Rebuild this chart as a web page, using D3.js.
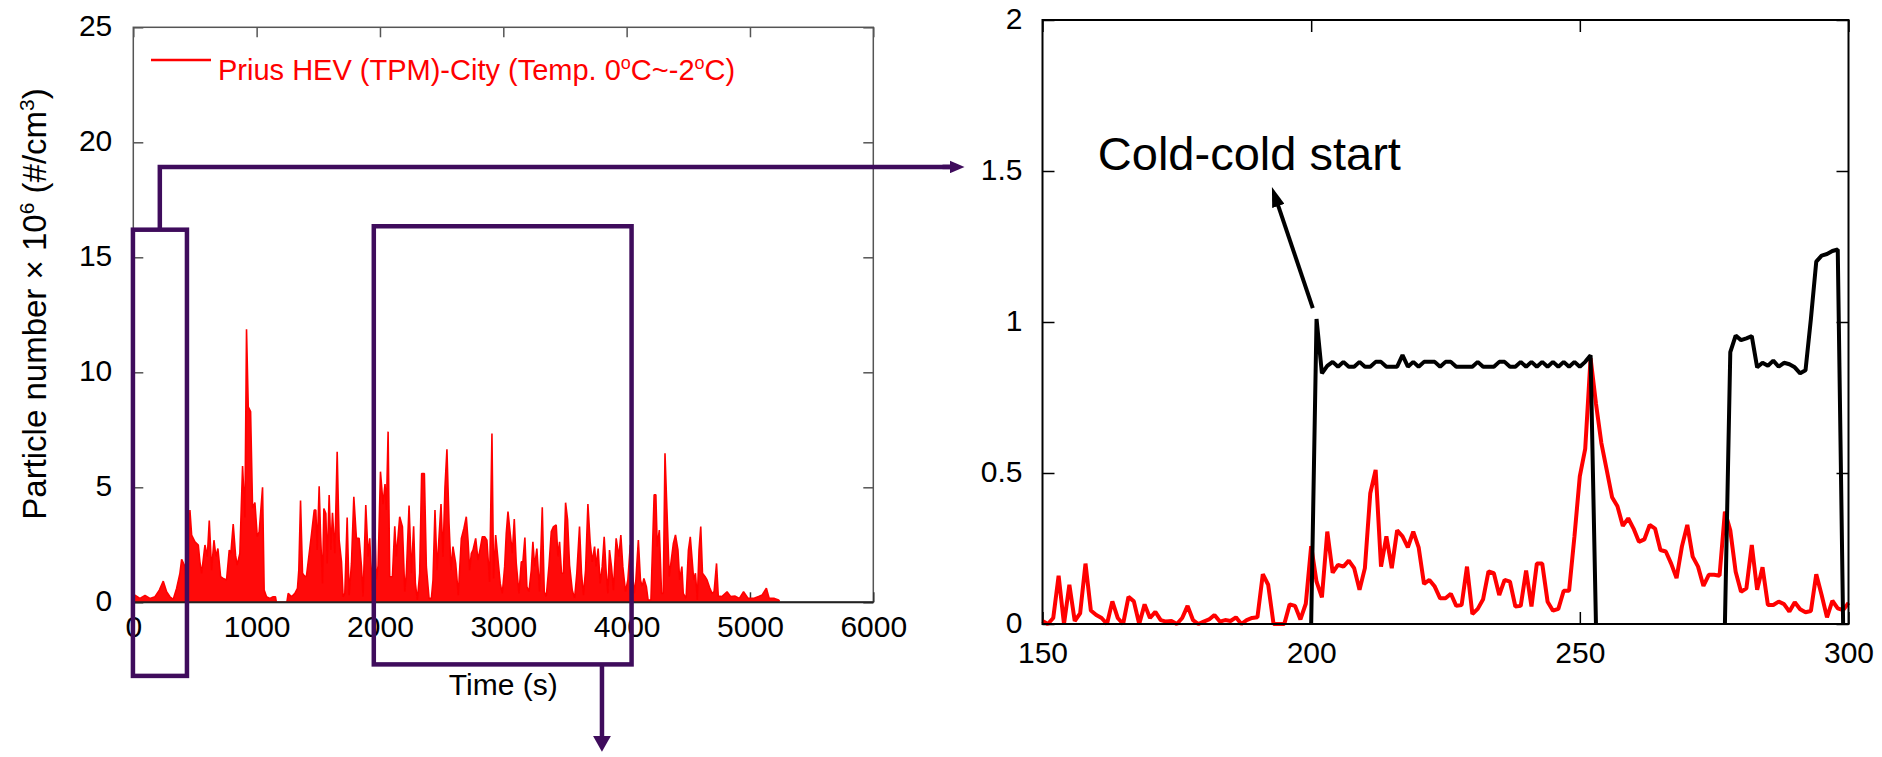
<!DOCTYPE html>
<html>
<head>
<meta charset="utf-8">
<script src="https://cdn.jsdelivr.net/npm/d3@7"></script>
<style>
  body { margin: 0; background: #fff; }
  svg { display: block; font-family: "Liberation Sans", Arial, sans-serif; }
  .tick text { font-size: 30px; fill: #000; }
</style>
</head>
<body>
<div id="chart"></div>
<script>
/* Prius HEV city cycle: full trace (left) and 150-300 s close-up (right) */

// full trace, [time s, particle number x 1e6 #/cm3]
const cityTrace = [
  [0,0.1],[13,0.31],[54,0.17],[95,0.3],[135,0.17],[176,0.24],[211,0.53],[243,0.92],[270,0.46],[297,0.24],
  [324,0.13],[351,0.6],[378,1.26],[392,1.87],[419,1.55],[440,0.3],[459,4.01],[473,2.92],[500,2.63],[527,2.49],
  [540,1.76],[554,1.26],[581,2.49],[600,1.98],[616,3.55],[635,1.4],[654,2.7],[670,1.98],[686,2.34],[708,1.11],
  [729,1.04],[756,0.97],[778,2.27],[791,2.13],[810,3.4],[829,2.05],[842,1.62],[864,2.13],[886,5.92],[905,3.69],
  [918,11.87],[932,8.5],[951,8.29],[967,4.08],[986,4.34],[1005,2.85],[1021,3.07],[1048,5.0],[1061,0.53],[1080,0.24],
  [1107,0.17],[1134,0.24],[1153,0.24],[1160,0],[1245,0],[1256,0.39],[1283,0.24],[1310,0.39],[1331,0.6],[1342,1.4],
  [1356,4.42],[1372,1.26],[1391,1.11],[1404,1.14],[1431,2.34],[1445,2.97],[1467,4.01],[1480,4.01],[1491,2.27],[1507,5.05],
  [1518,3.0],[1534,0.82],[1545,4.08],[1561,3.86],[1572,1.69],[1588,4.66],[1602,2.27],[1615,3.89],[1634,2.13],[1653,6.55],
  [1669,2.7],[1688,1.76],[1701,0.24],[1715,0.39],[1734,3.69],[1750,0.31],[1769,1.69],[1788,4.59],[1809,2.78],[1831,2.78],
  [1850,1.55],[1863,0.24],[1885,4.23],[1904,1.98],[1917,2.78],[1935,0.5],[1955,4.2],[1970,1.0],[1985,1.6],[2004,5.68],
  [2025,4.27],[2041,5.14],[2052,4.01],[2066,7.42],[2079,1.11],[2101,1.11],[2120,3.31],[2133,1.98],[2160,3.72],[2182,3.29],
  [2201,0.46],[2214,1.26],[2236,4.21],[2255,1.26],[2273,3.31],[2287,0.82],[2303,0.1],[2322,1.26],[2338,5.6],[2360,5.6],
  [2376,1.55],[2398,0.17],[2417,0.17],[2430,0.97],[2446,4.01],[2463,1.4],[2479,2.85],[2495,4.27],[2511,1.98],[2527,5.0],
  [2543,6.65],[2560,3.43],[2576,1.4],[2592,2.42],[2614,1.69],[2635,0.31],[2660,2.78],[2681,3.22],[2700,3.72],[2714,2.7],
  [2727,1.4],[2741,2.13],[2754,2.27],[2776,2.78],[2795,1.84],[2813,2.34],[2830,2.85],[2849,2.85],[2867,2.7],[2889,0.89],
  [2908,7.34],[2921,1.04],[2938,2.92],[2957,1.84],[2975,0.82],[2992,0.39],[3011,1.55],[3024,3.0],[3038,3.94],[3056,3.0],
  [3073,2.13],[3089,3.62],[3105,1.69],[3127,0.39],[3146,1.76],[3159,1.76],[3175,2.82],[3191,0.68],[3208,0.46],[3227,1.4],
  [3240,2.63],[3254,1.55],[3272,2.34],[3294,0.46],[3316,4.13],[3332,0.46],[3348,0.24],[3370,1.55],[3389,3.07],[3407,3.29],
  [3429,3.36],[3443,1.98],[3456,2.63],[3472,1.26],[3488,1.26],[3505,4.33],[3521,3.6],[3537,1.62],[3559,0.53],[3578,0.17],
  [3596,1.26],[3618,3.29],[3634,1.26],[3650,0.31],[3667,1.4],[3686,4.27],[3704,2.63],[3721,1.76],[3740,2.42],[3753,1.55],
  [3769,2.34],[3785,0.82],[3802,1.55],[3818,2.85],[3834,1.33],[3848,0.39],[3861,2.27],[3877,1.55],[3893,0.53],[3915,2.78],
  [3937,1.98],[3953,2.92],[3969,1.55],[3991,0.46],[4010,0.97],[4030,2.5],[4061,0.39],[4075,0.97],[4095,2.71],[4112,0.97],
  [4126,0.68],[4140,1.04],[4160,0.68],[4174,0.1],[4197,0.1],[4223,4.67],[4237,4.67],[4248,2.42],[4265,3.14],[4283,0.39],
  [4297,0.39],[4311,6.48],[4331,3.36],[4345,1.12],[4362,1.84],[4379,2.56],[4396,2.93],[4416,2.28],[4430,0.97],[4448,1.55],
  [4459,0.39],[4482,0.17],[4501,2.27],[4516,2.85],[4530,1.91],[4544,0.97],[4558,1.26],[4573,0.1],[4587,2.27],[4601,3.29],
  [4615,1.26],[4635,1.12],[4652,0.97],[4672,0.65],[4692,0.39],[4709,0.46],[4729,1.69],[4743,0.27],[4772,0.25],[4814,0.46],
  [4843,0.25],[4880,0.27],[4914,0.17],[4948,0.46],[4985,0.17],[5028,0.17],[5070,0.25],[5099,0.32],[5133,0.61],[5156,0.17],
  [5198,0.17],[5232,0.1],[5240,0.05]
];

// close-up, one reading per second
const zoomSeconds = d3.range(150, 301);
const redPN = [
  0.01,0.0,0.02,0.16,0.0,0.13,0.01,0.035,0.2,0.045,
  0.03,0.02,0.0,0.075,0.02,0.0,0.09,0.075,0.0,0.065,
  0.02,0.04,0.013,0.008,0.01,0.0,0.02,0.06,0.013,0.0,
  0.008,0.015,0.03,0.008,0.013,0.01,0.022,0.0,0.013,0.02,
  0.022,0.165,0.13,0.0,0.0,0.0,0.065,0.06,0.015,0.067,
  0.258,0.14,0.088,0.306,0.17,0.196,0.19,0.21,0.185,0.113,
  0.185,0.433,0.51,0.19,0.29,0.185,0.31,0.29,0.254,0.306,
  0.254,0.133,0.146,0.124,0.085,0.085,0.1,0.06,0.063,0.19,
  0.033,0.05,0.082,0.174,0.168,0.096,0.146,0.14,0.058,0.06,
  0.177,0.058,0.2,0.2,0.074,0.044,0.05,0.11,0.11,0.29,
  0.49,0.58,0.88,0.73,0.6,0.51,0.42,0.39,0.325,0.35,
  0.316,0.272,0.28,0.328,0.316,0.245,0.24,0.2,0.152,0.257,
  0.328,0.223,0.19,0.126,0.163,0.163,0.16,0.372,0.31,0.173,
  0.107,0.118,0.262,0.113,0.188,0.063,0.063,0.074,0.066,0.041,
  0.072,0.049,0.039,0.043,0.165,0.096,0.022,0.077,0.052,0.046,
  0.07
];

const blackSeconds = d3.range(200, 300);
const blackPN = [
  0,1.01,0.83,0.855,0.868,0.852,0.868,0.852,0.852,0.868,
  0.852,0.852,0.868,0.868,0.852,0.852,0.852,0.89,0.852,0.868,
  0.852,0.868,0.868,0.868,0.852,0.868,0.868,0.852,0.852,0.852,
  0.852,0.868,0.852,0.852,0.852,0.868,0.868,0.852,0.852,0.868,
  0.852,0.868,0.852,0.868,0.852,0.868,0.852,0.868,0.852,0.868,
  0.852,0.868,0.89,0,null,null,null,null,null,null,
  null,null,null,null,null,null,null,null,null,null,
  null,null,null,null,null,null,null,0,0.9,0.955,
  0.94,0.946,0.953,0.85,0.865,0.855,0.872,0.852,0.865,0.86,
  0.85,0.83,0.84,1.01,1.2,1.22,1.225,1.235,1.24,0
];

const leftXTicks = [0, 1000, 2000, 3000, 4000, 5000, 6000];
const leftYTicks = [0, 5, 10, 15, 20, 25];
const rightXTicks = [150, 200, 250, 300];
const rightYTicks = [0, 0.5, 1, 1.5, 2];

// highlighted windows on the full trace [t0, t1, top, bottom]
const startWindow = [-3, 435, 16.2, -3.2];
const midWindow = [1950, 4040, 16.35, -2.7];

const width = 1882, height = 757;
const purple = "#3f0c5c";

const svg = d3.select("#chart")
  .append("svg")
  .attr("width", width)
  .attr("height", height);

const defs = svg.append("defs");
function marker(id, len, wid, color) {
  defs.append("marker")
    .attr("id", id)
    .attr("markerUnits", "userSpaceOnUse")
    .attr("viewBox", `0 0 ${len} ${wid}`)
    .attr("markerWidth", len)
    .attr("markerHeight", wid)
    .attr("refX", 2)
    .attr("refY", wid / 2)
    .attr("orient", "auto")
    .append("path")
    .attr("d", `M0,0L${len},${wid / 2}L0,${wid}Z`)
    .attr("fill", color);
}
marker("headPurpleR", 15, 13, purple);
marker("headPurpleD", 16, 18, purple);
marker("headBlack", 20, 13, "#000");

// line that stops short so the arrowhead tip lands on (x2, y2)
function arrow(x1, y1, x2, y2, color, w, head, len) {
  const d = Math.hypot(x2 - x1, y2 - y1);
  const k = (d - len + 2) / d;
  svg.append("line")
    .attr("x1", x1).attr("y1", y1)
    .attr("x2", x1 + (x2 - x1) * k).attr("y2", y1 + (y2 - y1) * k)
    .attr("stroke", color)
    .attr("stroke-width", w)
    .attr("marker-end", `url(#${head})`);
}

/* ---------- left panel ---------- */
const xL = d3.scaleLinear().domain([0, 6000]).range([133.3, 873.3]);
const yL = d3.scaleLinear().domain([0, 25]).range([602.3, 27.3]);

svg.append("rect")
  .attr("x", xL(0)).attr("y", yL(25))
  .attr("width", xL(6000) - xL(0)).attr("height", yL(0) - yL(25))
  .attr("fill", "none").attr("stroke", "#555").attr("stroke-width", 1.5);

svg.append("g")
  .attr("transform", `translate(0,${yL(0)})`)
  .call(d3.axisBottom(xL).tickValues(leftXTicks).tickSize(-10).tickPadding(13).tickFormat(d3.format("d")))
  .call(g => g.select(".domain").remove())
  .call(g => g.selectAll(".tick line").attr("stroke", "#333").attr("stroke-width", 1.5));

svg.append("g")
  .attr("transform", `translate(0,${yL(25)})`)
  .call(d3.axisTop(xL).tickValues(leftXTicks).tickSize(-10).tickFormat(""))
  .call(g => g.select(".domain").remove())
  .call(g => g.selectAll(".tick line").attr("stroke", "#555").attr("stroke-width", 1.5));

svg.append("g")
  .attr("transform", `translate(${xL(0)},0)`)
  .call(d3.axisLeft(yL).tickValues(leftYTicks).tickSize(-10).tickPadding(21))
  .call(g => g.select(".domain").remove())
  .call(g => g.selectAll(".tick line").attr("stroke", "#555").attr("stroke-width", 1.5))
  .call(g => g.selectAll(".tick text").attr("dy", "0.27em"));

svg.append("g")
  .attr("transform", `translate(${xL(6000)},0)`)
  .call(d3.axisRight(yL).tickValues(leftYTicks).tickSize(-10).tickFormat(""))
  .call(g => g.select(".domain").remove())
  .call(g => g.selectAll(".tick line").attr("stroke", "#555").attr("stroke-width", 1.5));

// red trace: filled underneath so the dense 1 Hz record reads as a solid band
svg.append("path")
  .datum(cityTrace)
  .attr("d", d3.area().x(d => xL(d[0])).y0(yL(0)).y1(d => yL(d[1])))
  .attr("fill", "#ff0a0a");

svg.append("path")
  .datum(cityTrace)
  .attr("d", d3.line().x(d => xL(d[0])).y(d => yL(d[1])))
  .attr("fill", "none")
  .attr("stroke", "#ff0000")
  .attr("stroke-width", 1.6)
  .attr("stroke-linejoin", "bevel");

// bottom axis line over the trace
svg.append("line")
  .attr("x1", xL(0)).attr("x2", xL(6000))
  .attr("y1", yL(0)).attr("y2", yL(0))
  .attr("stroke", "#222").attr("stroke-width", 2);

// legend
svg.append("line")
  .attr("x1", 151).attr("x2", 211).attr("y1", 60).attr("y2", 60)
  .attr("stroke", "#ff0000").attr("stroke-width", 2.5);
const leg = svg.append("text")
  .attr("x", 218).attr("y", 80)
  .attr("font-size", 29)
  .attr("fill", "#ff0000");
leg.append("tspan").text("Prius HEV (TPM)-City (Temp. 0");
leg.append("tspan").attr("font-size", 18).attr("dy", -11).text("o");
leg.append("tspan").attr("dy", 11).text("C~-2");
leg.append("tspan").attr("font-size", 18).attr("dy", -11).text("o");
leg.append("tspan").attr("dy", 11).text("C)");

// axis titles
svg.append("text")
  .attr("x", (xL(0) + xL(6000)) / 2)
  .attr("y", 695)
  .attr("text-anchor", "middle")
  .attr("font-size", 30)
  .text("Time (s)");

const yt = svg.append("text")
  .attr("transform", "translate(46,304) rotate(-90)")
  .attr("text-anchor", "middle")
  .attr("font-size", 33);
yt.append("tspan").text("Particle number \u00d7 10");
yt.append("tspan").attr("font-size", 21).attr("dy", -12).text("6");
yt.append("tspan").attr("dy", 12).text(" (#/cm");
yt.append("tspan").attr("font-size", 21).attr("dy", -12).text("3");
yt.append("tspan").attr("dy", 12).text(")");

// highlight windows
for (const w of [startWindow, midWindow]) {
  svg.append("rect")
    .attr("x", xL(w[0])).attr("y", yL(w[2]))
    .attr("width", xL(w[1]) - xL(w[0]))
    .attr("height", yL(w[3]) - yL(w[2]))
    .attr("fill", "none")
    .attr("stroke", purple)
    .attr("stroke-width", 4.5);
}

/* ---------- right panel ---------- */
const xR = d3.scaleLinear().domain([150, 300]).range([1042.5, 1848.5]);
const yR = d3.scaleLinear().domain([0, 2]).range([624, 20]);

// connector from the start window to the close-up
svg.append("path")
  .attr("d", `M${xL(215)},${yL(startWindow[2])}V${yL(18.93)}H${xR(150) - 90}`)
  .attr("fill", "none")
  .attr("stroke", purple)
  .attr("stroke-width", 4.5);
arrow(xR(150) - 100, yL(18.93), xR(150) - 78, yL(18.93), purple, 4.5, "headPurpleR", 15);
arrow(xL(3800), yL(midWindow[3]), xL(3800), yL(-6.5), purple, 4.5, "headPurpleD", 16);

svg.append("g")
  .attr("transform", `translate(0,${yR(0)})`)
  .call(d3.axisBottom(xR).tickValues(rightXTicks).tickSize(-12).tickPadding(18))
  .call(g => g.select(".domain").remove())
  .call(g => g.selectAll(".tick line").attr("stroke-width", 1.5));

svg.append("g")
  .attr("transform", `translate(0,${yR(2)})`)
  .call(d3.axisTop(xR).tickValues(rightXTicks).tickSize(-12).tickFormat(""))
  .call(g => g.select(".domain").remove())
  .call(g => g.selectAll(".tick line").attr("stroke-width", 1.5));

svg.append("g")
  .attr("transform", `translate(${xR(150)},0)`)
  .call(d3.axisLeft(yR).tickValues(rightYTicks).tickSize(-12).tickPadding(20).tickFormat(d => d))
  .call(g => g.select(".domain").remove())
  .call(g => g.selectAll(".tick line").attr("stroke-width", 1.5))
  .call(g => g.selectAll(".tick text").attr("dy", "0.27em"));

svg.append("g")
  .attr("transform", `translate(${xR(300)},0)`)
  .call(d3.axisRight(yR).tickValues(rightYTicks).tickSize(-12).tickFormat(""))
  .call(g => g.select(".domain").remove())
  .call(g => g.selectAll(".tick line").attr("stroke-width", 1.5));

svg.append("path")
  .datum(zoomSeconds.map((t, i) => [t, redPN[i]]))
  .attr("d", d3.line().x(d => xR(d[0])).y(d => yR(d[1])))
  .attr("fill", "none")
  .attr("stroke", "#ff0000")
  .attr("stroke-width", 4)
  .attr("stroke-linejoin", "bevel");

svg.append("path")
  .datum(blackSeconds.map((t, i) => [t, blackPN[i]]))
  .attr("d", d3.line().defined(d => d[1] != null).x(d => xR(d[0])).y(d => yR(d[1])))
  .attr("fill", "none")
  .attr("stroke", "#000")
  .attr("stroke-width", 4)
  .attr("stroke-linejoin", "bevel");

svg.append("rect")
  .attr("x", xR(150)).attr("y", yR(2))
  .attr("width", xR(300) - xR(150)).attr("height", yR(0) - yR(2))
  .attr("fill", "none").attr("stroke", "#000").attr("stroke-width", 2);

// cold start annotation
svg.append("text")
  .attr("x", xR(160.3)).attr("y", yR(1.503))
  .attr("font-size", 47)
  .text("Cold-cold start");
arrow(xR(200.3), yR(1.046), xR(192.7), yR(1.447), "#000", 4, "headBlack", 20);
</script>
</body>
</html>
